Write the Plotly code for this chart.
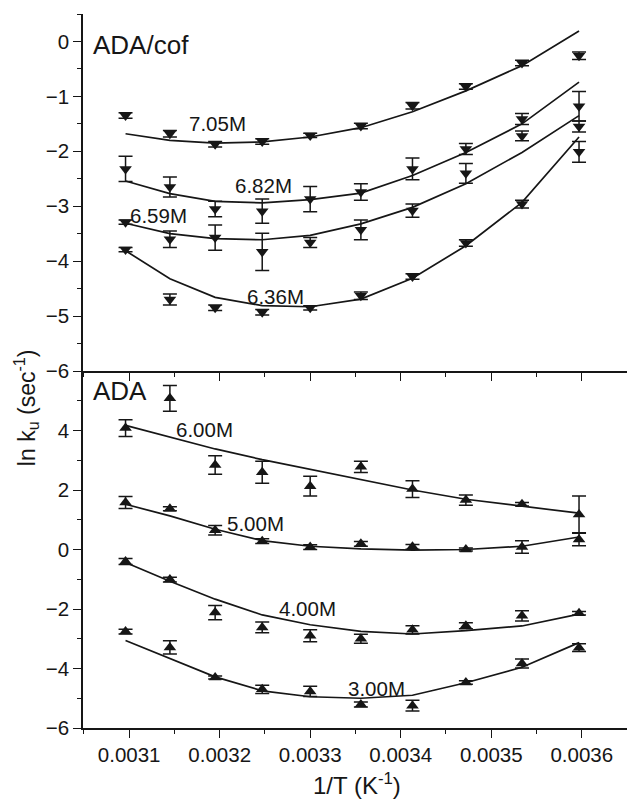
import plotly.graph_objects as go

# Inverse temperature (1/K) for the ten measurement temperatures
inv_T = [0.003096, 0.003145, 0.003195, 0.003247, 0.003300,
         0.003356, 0.003413, 0.003472, 0.003534, 0.003597]

# ---- ADA/cof panel (ln k_u, error, fitted curve) ----
lnk_705 = [-1.35, -1.68, -1.87, -1.82, -1.71, -1.54, -1.17, -0.82, -0.39, -0.26]
err_705 = [0.05, 0.06, 0.05, 0.05, 0.04, 0.05, 0.06, 0.05, 0.05, 0.07]
fit_705 = [-1.68, -1.80, -1.85, -1.83, -1.74, -1.57, -1.28, -0.90, -0.44, 0.19]

lnk_682 = [-2.32, -2.65, -3.05, -3.09, -2.87, -2.74, -2.32, -1.96, -1.41, -1.18]
err_682 = [0.23, 0.18, 0.14, 0.22, 0.23, 0.15, 0.20, 0.10, 0.10, 0.27]
fit_682 = [-2.54, -2.77, -2.91, -2.94, -2.88, -2.76, -2.44, -2.02, -1.50, -0.74]

lnk_659 = [-3.29, -3.60, -3.57, -3.83, -3.66, -3.43, -3.08, -2.40, -1.72, -1.55]
err_659 = [0.04, 0.15, 0.23, 0.34, 0.09, 0.18, 0.12, 0.18, 0.09, 0.10]
fit_659 = [-3.31, -3.50, -3.59, -3.61, -3.53, -3.32, -3.02, -2.59, -2.02, -1.35]

lnk_636 = [-3.79, -4.70, -4.85, -4.93, -4.85, -4.63, -4.28, -3.67, -2.96, -2.01]
err_636 = [0.04, 0.10, 0.05, 0.05, 0.04, 0.07, 0.05, 0.06, 0.07, 0.19]
fit_636 = [-3.81, -4.32, -4.66, -4.81, -4.83, -4.69, -4.31, -3.72, -2.93, -1.74]

# ---- ADA panel ----
lnk_600 = [4.08, 5.08, 2.84, 2.60, 2.13, 2.78, 2.03, 1.66, 1.52, 1.18]
err_600 = [0.28, 0.43, 0.31, 0.37, 0.33, 0.19, 0.28, 0.17, 0.06, 0.62]
fit_600 = [4.17, 3.77, 3.38, 3.02, 2.70, 2.36, 2.00, 1.69, 1.46, 1.22]

lnk_500 = [1.58, 1.37, 0.65, 0.28, 0.08, 0.19, 0.09, 0.00, 0.08, 0.34]
err_500 = [0.20, 0.07, 0.16, 0.08, 0.08, 0.08, 0.08, 0.05, 0.21, 0.21]
fit_500 = [1.52, 1.13, 0.68, 0.30, 0.11, 0.02, -0.02, 0.00, 0.11, 0.42]

lnk_400 = [-0.40, -1.01, -2.12, -2.62, -2.90, -3.00, -2.70, -2.56, -2.23, -2.14]
err_400 = [0.10, 0.08, 0.24, 0.18, 0.20, 0.15, 0.14, 0.10, 0.17, 0.06]
fit_400 = [-0.44, -1.07, -1.67, -2.20, -2.53, -2.75, -2.84, -2.73, -2.57, -2.17]

lnk_300 = [-2.76, -3.29, -4.30, -4.70, -4.77, -5.21, -5.25, -4.47, -3.83, -3.30]
err_300 = [0.08, 0.22, 0.05, 0.14, 0.17, 0.08, 0.18, 0.06, 0.15, 0.13]
fit_300 = [-3.06, -3.66, -4.28, -4.75, -4.95, -5.00, -4.90, -4.48, -3.96, -3.13]

top_series = [
    ("7.05M", lnk_705, err_705, fit_705, 0.003198, -1.50),
    ("6.82M", lnk_682, err_682, fit_682, 0.003248, -2.62),
    ("6.59M", lnk_659, err_659, fit_659, 0.003132, -3.17),
    ("6.36M", lnk_636, err_636, fit_636, 0.003262, -4.64),
]
bottom_series = [
    ("6.00M", lnk_600, err_600, fit_600, 0.003183, 4.05),
    ("5.00M", lnk_500, err_500, fit_500, 0.003240, 0.88),
    ("4.00M", lnk_400, err_400, fit_400, 0.003297, -1.99),
    ("3.00M", lnk_300, err_300, fit_300, 0.003373, -4.67),
]

INK = "#161616"
FONT = "Liberation Sans, Arial, Helvetica, sans-serif"

fig = go.Figure()


def add_panel(series, symbol, xa, ya):
    for name, vals, errs, fit, lx, ly in series:
        fig.add_trace(go.Scatter(
            x=inv_T, y=fit, mode="lines", xaxis=xa, yaxis=ya,
            line=dict(color=INK, width=1.7), showlegend=False, hoverinfo="skip"))
        fig.add_trace(go.Scatter(
            x=inv_T, y=vals, mode="markers", xaxis=xa, yaxis=ya, name=name,
            marker=dict(symbol=symbol, size=11, color=INK),
            error_y=dict(type="data", array=errs, visible=True,
                         color=INK, thickness=1.5, width=7),
            showlegend=False))
        fig.add_annotation(x=lx, y=ly, xref=xa, yref=ya, text=name,
                           showarrow=False, xanchor="center", yanchor="middle",
                           font=dict(family=FONT, size=20.5, color=INK))


add_panel(bottom_series, "triangle-up", "x", "y")
add_panel(top_series, "triangle-down", "x2", "y2")

# Panel titles
fig.add_annotation(x=0.003113, y=-0.06, xref="x2", yref="y2", text="ADA/cof",
                   showarrow=False, xanchor="center", yanchor="middle",
                   font=dict(family=FONT, size=26, color=INK))
fig.add_annotation(x=0.003090, y=5.32, xref="x", yref="y", text="ADA",
                   showarrow=False, xanchor="center", yanchor="middle",
                   font=dict(family=FONT, size=26, color=INK))

# Axis titles
fig.add_annotation(x=0.503, y=0, xref="paper", yref="paper",
                   text="1/T (K<sup>-1</sup>)", showarrow=False,
                   xanchor="center", yanchor="middle", yshift=-56,
                   font=dict(family=FONT, size=24, color=INK))
fig.add_annotation(x=0, y=0.448, xref="paper", yref="paper",
                   text="ln k<sub>u</sub> (sec<sup>-1</sup>)", showarrow=False,
                   textangle=-90, xanchor="center", yanchor="middle", xshift=-57,
                   font=dict(family=FONT, size=23, color=INK))

XR = [0.003049, 0.00365]
tickfont = dict(family=FONT, size=20.5, color=INK)
common_x = dict(range=XR, dtick=0.0001, tick0=0, showgrid=False, zeroline=False,
                showline=True, linecolor=INK, linewidth=1.6,
                ticklen=8, tickwidth=1.4, tickcolor=INK, tickformat=".4f")
common_y = dict(showgrid=False, zeroline=False, showline=True, linecolor=INK,
                linewidth=1.6, ticklen=8, tickwidth=1.4, tickcolor=INK)

fig.update_layout(
    width=627, height=799,
    margin=dict(l=83, r=0, t=14, b=71),
    paper_bgcolor="white", plot_bgcolor="white",
    font=dict(family=FONT, color=INK),
    showlegend=False,
    # bottom (ADA) panel
    xaxis=dict(**common_x, anchor="y", ticks="outside", tickfont=tickfont,
               minor=dict(ticks="outside", ticklen=4, dtick=0.00005,
                          tickcolor=INK, tickwidth=1.4)),
    yaxis=dict(**common_y, domain=[0, 0.5], range=[-6, 6], anchor="x",
               ticks="outside", tickvals=[-6, -4, -2, 0, 2, 4],
               tickfont=tickfont,
               minor=dict(ticks="outside", ticklen=4, dtick=1,
                          tickcolor=INK, tickwidth=1.4)),
    # top (ADA/cof) panel
    xaxis2=dict(**common_x, anchor="y2", matches="x", ticks="outside",
                showticklabels=False,
                minor=dict(ticks="outside", ticklen=4, dtick=0.00005,
                           tickcolor=INK, tickwidth=1.4)),
    yaxis2=dict(**common_y, domain=[0.5, 1], range=[-6, 0.5], anchor="x2",
                ticks="outside", dtick=1, tickfont=tickfont,
                minor=dict(ticks="outside", ticklen=4, dtick=0.5,
                           tickcolor=INK, tickwidth=1.4)),
    # inward ticks along the top and right edges of each panel
    xaxis3=dict(**common_x, overlaying="x", side="top", anchor="y",
                ticks="inside", showticklabels=False,
                minor=dict(ticks="inside", ticklen=4, dtick=0.00005,
                           tickcolor=INK, tickwidth=1.4)),
    xaxis4=dict(**common_x, overlaying="x2", side="top", anchor="y2",
                ticks="inside", showticklabels=False,
                minor=dict(ticks="inside", ticklen=4, dtick=0.00005,
                           tickcolor=INK, tickwidth=1.4)),
    yaxis3=dict(**common_y, overlaying="y", side="right", anchor="x",
                range=[-6, 6], dtick=2, ticks="inside", showticklabels=False,
                minor=dict(ticks="inside", ticklen=4, dtick=1,
                           tickcolor=INK, tickwidth=1.4)),
    yaxis4=dict(**common_y, overlaying="y2", side="right", anchor="x2",
                range=[-6, 0.5], dtick=1, ticks="inside", showticklabels=False,
                minor=dict(ticks="inside", ticklen=4, dtick=0.5,
                           tickcolor=INK, tickwidth=1.4)),
)

fig.write_html("out.html")
